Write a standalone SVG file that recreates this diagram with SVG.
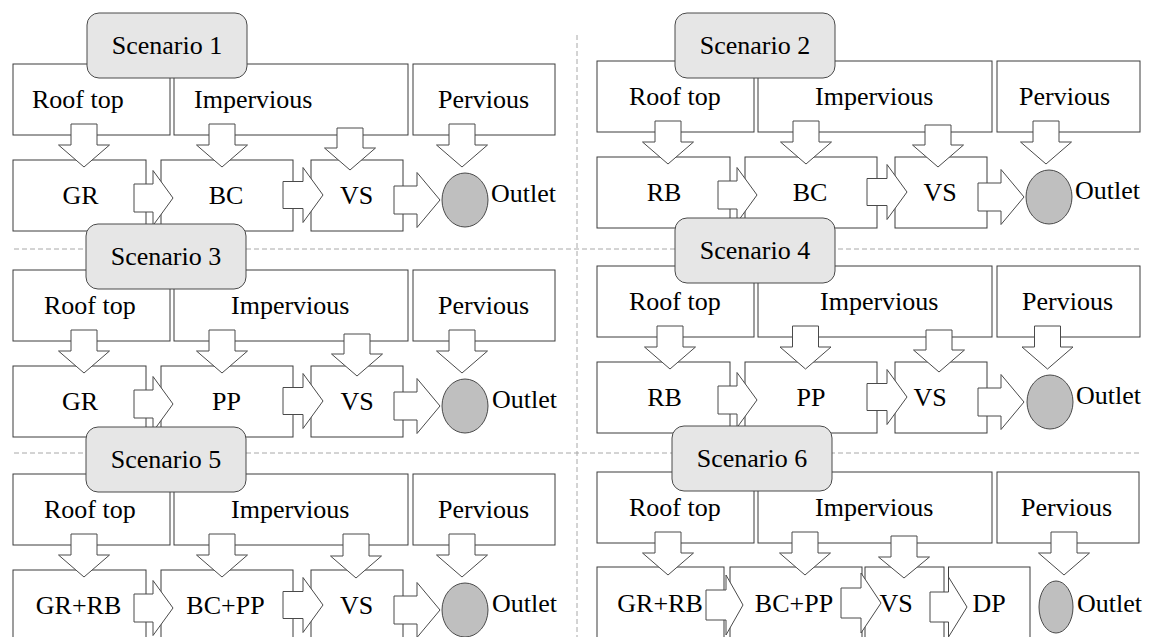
<svg xmlns="http://www.w3.org/2000/svg" width="1155" height="637" viewBox="0 0 1155 637" font-family="'Liberation Serif', 'Times New Roman', Times, serif">
<style>
text{font-family:'Liberation Serif','Times New Roman',Times,serif;font-size:26px;fill:#000}
.m{text-anchor:middle}
.box{fill:#fff;stroke:#3c3c3c;stroke-width:1}
.lbl{fill:#e6e6e6;stroke:#4a4a4a;stroke-width:1}
.out{fill:#bfbfbf;stroke:#4a4a4a;stroke-width:1}
.arr{fill:#fff;stroke:#4a4a4a;stroke-width:1;stroke-linejoin:miter}
.sep{fill:none;stroke:#a8a8a8;stroke-width:1;stroke-dasharray:5 3}
</style>
<rect width="1155" height="637" fill="#fff"/>
<g id="separators">
<line class="sep" x1="577" y1="35" x2="577" y2="637"/>
<line class="sep" x1="14" y1="249" x2="1142" y2="249"/>
<line class="sep" x1="14" y1="453" x2="1142" y2="453"/>
</g>
<g id="s1-rooftop"><rect class="box" x="13" y="64" width="157" height="71"/><text x="32" y="108">Roof top</text></g>
<g id="s1-impervious"><rect class="box" x="174" y="64" width="234" height="71"/><text x="194" y="108">Impervious</text></g>
<g id="s1-pervious"><rect class="box" x="413" y="64" width="142" height="71"/><text x="438" y="108">Pervious</text></g>
<g id="s1-gr"><rect class="box" x="13" y="160" width="133" height="71"/><text class="m" x="80.5" y="204">GR</text></g>
<g id="s1-bc"><rect class="box" x="161" y="160" width="132" height="71"/><text class="m" x="226" y="204">BC</text></g>
<g id="s1-vs"><rect class="box" x="311" y="160" width="92" height="71"/><text class="m" x="356.5" y="204">VS</text></g>
<g id="s1-outlet"><ellipse class="out" cx="465" cy="200" rx="23" ry="27"/><text x="491" y="202">Outlet</text></g>
<g id="s2-rooftop"><rect class="box" x="597" y="61" width="157" height="71"/><text x="629" y="105">Roof top</text></g>
<g id="s2-impervious"><rect class="box" x="758" y="61" width="234" height="71"/><text x="815" y="105">Impervious</text></g>
<g id="s2-pervious"><rect class="box" x="997" y="61" width="143" height="71"/><text x="1019" y="105">Pervious</text></g>
<g id="s2-rb"><rect class="box" x="597" y="157" width="133" height="71"/><text class="m" x="664" y="201">RB</text></g>
<g id="s2-bc"><rect class="box" x="745" y="157" width="132" height="71"/><text class="m" x="810" y="201">BC</text></g>
<g id="s2-vs"><rect class="box" x="895" y="157" width="92" height="71"/><text class="m" x="940" y="201">VS</text></g>
<g id="s2-outlet"><ellipse class="out" cx="1049" cy="197" rx="23" ry="27"/><text x="1075" y="199">Outlet</text></g>
<g id="s3-rooftop"><rect class="box" x="13" y="270" width="157" height="71"/><text x="44" y="314">Roof top</text></g>
<g id="s3-impervious"><rect class="box" x="174" y="270" width="234" height="71"/><text x="231" y="314">Impervious</text></g>
<g id="s3-pervious"><rect class="box" x="413" y="270" width="142" height="71"/><text x="438" y="314">Pervious</text></g>
<g id="s3-gr"><rect class="box" x="13" y="366" width="133" height="71"/><text class="m" x="80" y="410">GR</text></g>
<g id="s3-pp"><rect class="box" x="161" y="366" width="132" height="71"/><text class="m" x="226.5" y="410">PP</text></g>
<g id="s3-vs"><rect class="box" x="311" y="366" width="92" height="71"/><text class="m" x="357" y="410">VS</text></g>
<g id="s3-outlet"><ellipse class="out" cx="465" cy="406" rx="23" ry="27"/><text x="492" y="408">Outlet</text></g>
<g id="s4-rooftop"><rect class="box" x="597" y="266" width="157" height="71"/><text x="629" y="310">Roof top</text></g>
<g id="s4-impervious"><rect class="box" x="758" y="266" width="234" height="71"/><text x="820" y="310">Impervious</text></g>
<g id="s4-pervious"><rect class="box" x="997" y="266" width="143" height="71"/><text x="1022" y="310">Pervious</text></g>
<g id="s4-rb"><rect class="box" x="597" y="362" width="133" height="71"/><text class="m" x="664.5" y="406">RB</text></g>
<g id="s4-pp"><rect class="box" x="745" y="362" width="132" height="71"/><text class="m" x="811" y="406">PP</text></g>
<g id="s4-vs"><rect class="box" x="895" y="362" width="92" height="71"/><text class="m" x="930" y="406">VS</text></g>
<g id="s4-outlet"><ellipse class="out" cx="1050" cy="402" rx="23" ry="27"/><text x="1076" y="404">Outlet</text></g>
<g id="s5-rooftop"><rect class="box" x="13" y="474" width="157" height="71"/><text x="44" y="518">Roof top</text></g>
<g id="s5-impervious"><rect class="box" x="174" y="474" width="234" height="71"/><text x="231" y="518">Impervious</text></g>
<g id="s5-pervious"><rect class="box" x="413" y="474" width="142" height="71"/><text x="438" y="518">Pervious</text></g>
<g id="s5-grrb"><rect class="box" x="13" y="570" width="133" height="71"/><text class="m" x="78.5" y="614">GR+RB</text></g>
<g id="s5-bcpp"><rect class="box" x="161" y="570" width="132" height="71"/><text class="m" x="225.5" y="614">BC+PP</text></g>
<g id="s5-vs"><rect class="box" x="311" y="570" width="92" height="71"/><text class="m" x="356.5" y="614">VS</text></g>
<g id="s5-outlet"><ellipse class="out" cx="465" cy="610" rx="23" ry="27"/><text x="492" y="612">Outlet</text></g>
<g id="s6-rooftop"><rect class="box" x="597" y="472" width="157" height="71"/><text x="629" y="516">Roof top</text></g>
<g id="s6-impervious"><rect class="box" x="758" y="472" width="234" height="71"/><text x="815" y="516">Impervious</text></g>
<g id="s6-pervious"><rect class="box" x="997" y="472" width="142" height="71"/><text x="1021" y="516">Pervious</text></g>
<g id="s6-grrb"><rect class="box" x="597" y="567" width="127" height="71"/><text class="m" x="660" y="612">GR+RB</text></g>
<g id="s6-bcpp"><rect class="box" x="730" y="567" width="132" height="71"/><text class="m" x="794" y="612">BC+PP</text></g>
<g id="s6-vs"><rect class="box" x="865" y="567" width="79" height="71"/><text class="m" x="896" y="612">VS</text></g>
<g id="s6-dp"><rect class="box" x="948.5" y="567" width="81.5" height="71"/><text class="m" x="989" y="612">DP</text></g>
<g id="s6-outlet"><ellipse class="out" cx="1056" cy="607" rx="17" ry="26"/><text x="1077" y="612">Outlet</text></g>
<g id="connectors">
<path class="arr" d="M71,124H97V145H109.5L84,167L58.5,145H71Z"/>
<path class="arr" d="M209,124H235V145H247.5L222,167L196.5,145H209Z"/>
<path class="arr" d="M337,128H363V148H375.5L350,170L324.5,148H337Z"/>
<path class="arr" d="M449,124H475V145H487.5L462,167L436.5,145H449Z"/>
<path class="arr" d="M134,184H153V170.5L173,198L153,225.5V212H134Z"/>
<path class="arr" d="M283,181.5H303V167.5L323,195L303,222.5V208.5H283Z"/>
<path class="arr" d="M394,186H417V172.5L440,200L417,227.5V214H394Z"/>
<path class="arr" d="M655,121H681V142H693.5L668,164L642.5,142H655Z"/>
<path class="arr" d="M793,121H819V142H831.5L806,164L780.5,142H793Z"/>
<path class="arr" d="M925,125H951V145H963.5L938,167L912.5,145H925Z"/>
<path class="arr" d="M1033,121H1059V142H1071.5L1046,164L1020.5,142H1033Z"/>
<path class="arr" d="M718,181H737V167.5L757,195L737,222.5V209H718Z"/>
<path class="arr" d="M867,178.5H887V164.5L907,192L887,219.5V205.5H867Z"/>
<path class="arr" d="M978,183H1001V169.5L1024,197L1001,224.5V211H978Z"/>
<path class="arr" d="M71,330H97V351H109.5L84,373L58.5,351H71Z"/>
<path class="arr" d="M209,330H235V351H247.5L222,373L196.5,351H209Z"/>
<path class="arr" d="M344,334H370V354H382.5L357,376L331.5,354H344Z"/>
<path class="arr" d="M449,330H475V351H487.5L462,373L436.5,351H449Z"/>
<path class="arr" d="M134,390H153V376.5L173,404L153,431.5V418H134Z"/>
<path class="arr" d="M283,387.5H303V373.5L323,401L303,428.5V414.5H283Z"/>
<path class="arr" d="M394,392H417V378.5L440,406L417,433.5V420H394Z"/>
<path class="arr" d="M657,326H683V347H695.5L670,369L644.5,347H657Z"/>
<path class="arr" d="M792.5,326H818.5V347H831L805.5,369L780,347H792.5Z"/>
<path class="arr" d="M926,330H952V350H964.5L939,372L913.5,350H926Z"/>
<path class="arr" d="M1034.5,326H1060.5V347H1073L1047.5,369L1022,347H1034.5Z"/>
<path class="arr" d="M718,386H737V372.5L757,400L737,427.5V414H718Z"/>
<path class="arr" d="M867,383.5H887V369.5L907,397L887,424.5V410.5H867Z"/>
<path class="arr" d="M978,388H1001V374.5L1024,402L1001,429.5V416H978Z"/>
<path class="arr" d="M71,534H97V555H109.5L84,577L58.5,555H71Z"/>
<path class="arr" d="M209,534H235V555H247.5L222,577L196.5,555H209Z"/>
<path class="arr" d="M343,534H369V556H381.5L356,578L330.5,556H343Z"/>
<path class="arr" d="M449,534H475V555H487.5L462,577L436.5,555H449Z"/>
<path class="arr" d="M134,594H153V580.5L173,608L153,635.5V622H134Z"/>
<path class="arr" d="M283,591.5H303V577.5L323,605L303,632.5V618.5H283Z"/>
<path class="arr" d="M394,596H417V582.5L440,610L417,637.5V624H394Z"/>
<path class="arr" d="M655,532H681V553H693.5L668,575L642.5,553H655Z"/>
<path class="arr" d="M792,532H818V553H830.5L805,575L779.5,553H792Z"/>
<path class="arr" d="M891,536H917V557H929.5L904,578L878.5,557H891Z"/>
<path class="arr" d="M1051,532H1077V553H1089.5L1064,575L1038.5,553H1051Z"/>
<path class="arr" d="M706,590H726V575L743,605L726,635V620H706Z"/>
<path class="arr" d="M841,588H861V573L881,603L861,633V618H841Z"/>
<path class="arr" d="M930,592H948.5V577L967,607L948.5,637V622H930Z"/>
</g>
<g id="s1-label"><rect class="lbl" x="87" y="13" width="160" height="65" rx="12"/><text class="m" x="167" y="54">Scenario 1</text></g>
<g id="s2-label"><rect class="lbl" x="675" y="13" width="160" height="65" rx="12"/><text class="m" x="755" y="54">Scenario 2</text></g>
<g id="s3-label"><rect class="lbl" x="86" y="224" width="160" height="65" rx="12"/><text class="m" x="166" y="265">Scenario 3</text></g>
<g id="s4-label"><rect class="lbl" x="675" y="218" width="160" height="65" rx="12"/><text class="m" x="755" y="259">Scenario 4</text></g>
<g id="s5-label"><rect class="lbl" x="86" y="427" width="160" height="65" rx="12"/><text class="m" x="166" y="468">Scenario 5</text></g>
<g id="s6-label"><rect class="lbl" x="672" y="426" width="160" height="65" rx="12"/><text class="m" x="752" y="467">Scenario 6</text></g>
</svg>
